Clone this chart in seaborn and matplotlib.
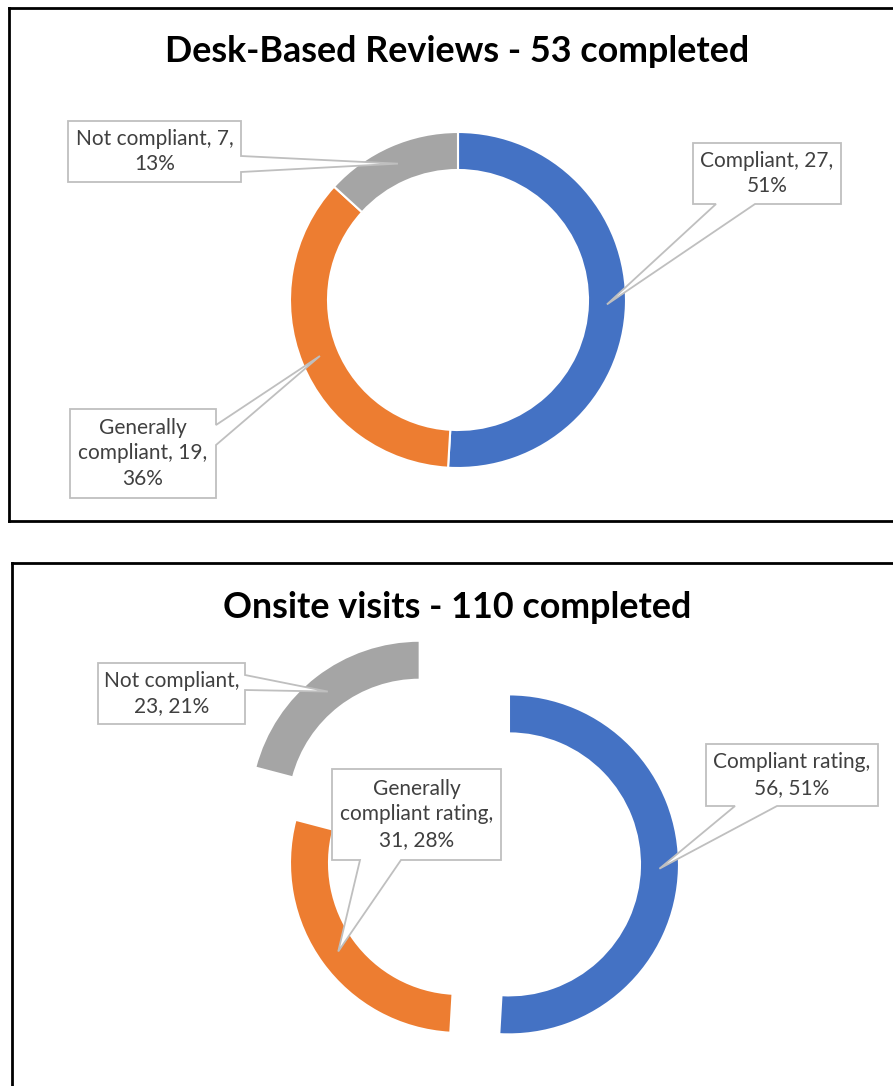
import numpy as np
import matplotlib
matplotlib.use("Agg")
import matplotlib.pyplot as plt
from matplotlib.patches import Polygon
import seaborn as sns

# ── Data ──────────────────────────────────────────────────────────────────────

desk_labels = ["Compliant", "Generally compliant", "Not compliant"]
desk_counts = [27, 19, 7]
desk_title = "Desk-Based Reviews - 53 completed"

onsite_labels = ["Compliant rating", "Generally compliant rating", "Not compliant"]
onsite_counts = [56, 31, 23]
onsite_title = "Onsite visits - 110 completed"

COLORS = ["#4472C4", "#ED7D31", "#A5A5A5"]

# ── Setup ─────────────────────────────────────────────────────────────────────

sns.set_theme(style="white")
plt.rcParams["font.family"] = ["Lato", "DejaVu Sans"]

W, H = 893, 1086
fig = plt.figure(figsize=(W / 100, H / 100), dpi=100)


def panel(x0, y0, x1, y1):
    # axes whose data units are figure pixels (y negated so pies keep orientation)
    ax = fig.add_axes([x0 / W, 1 - y1 / H, (x1 - x0) / W, (y1 - y0) / H])
    return ax, (x0, x1), (-y1, -y0)


def callout(ax, text, box, tip, side, b1, b2):
    # box: (left, top, right, bottom) in px, wedge base on given side between b1 and b2
    l, t, r, b = box
    tx, ty = tip
    if side == "right":
        pts = [(l, t), (r, t), (r, b1), (tx, ty), (r, b2), (r, b), (l, b)]
    else:  # bottom
        pts = [(l, t), (r, t), (r, b), (b2, b), (tx, ty), (b1, b), (l, b)]
    pts = [(x, -y) for x, y in pts]
    ax.add_patch(Polygon(pts, closed=True, facecolor="white", edgecolor="#BFBFBF",
                         linewidth=1.3, zorder=5))
    ax.text((l + r) / 2, -(t + b) / 2, text, ha="center", va="center",
            fontsize=15, color="#404040", linespacing=1.35, zorder=6)


def draw_donut(ax, counts, center, radius, width, explode):
    wedges, _ = ax.pie(counts, colors=COLORS, startangle=90, counterclock=False,
                       radius=radius, center=center, explode=explode,
                       wedgeprops=dict(width=width, edgecolor="white", linewidth=1.5))
    # bisector tips at the middle of the ring
    tips = []
    for w in wedges:
        mid = np.deg2rad((w.theta1 + w.theta2) / 2)
        rr = radius - width / 2
        cx, cy = w.center
        tips.append((cx + rr * np.cos(mid), -(cy + rr * np.sin(mid))))
    return tips


def finish(ax, xlim, ylim):
    ax.set_xlim(*xlim)
    ax.set_ylim(*ylim)
    ax.set_aspect("equal")
    ax.set_frame_on(True)
    ax.set_xticks([])
    ax.set_yticks([])
    for s in ax.spines.values():
        s.set_color("black")
        s.set_linewidth(2)
    ax.spines["right"].set_visible(False)


def pct(v, total):
    return f"{round(100 * v / total)}%"


# ── Top panel: desk-based reviews ────────────────────────────────────────────

ax1, xl, yl = panel(9, 8, 900, 521)
tips = draw_donut(ax1, desk_counts, (458, -300), 168, 38, [0, 0, 0])
tot = sum(desk_counts)
ax1.text(457, -51, desk_title, ha="center", va="center", fontsize=25.8,
         fontweight="bold", color="black")
callout(ax1, f"{desk_labels[0]}, {desk_counts[0]},\n{pct(desk_counts[0], tot)}",
        (693, 143, 841, 204), tips[0], "bottom", 716, 755)
callout(ax1, f"Generally\ncompliant, {desk_counts[1]},\n{pct(desk_counts[1], tot)}",
        (70, 409, 216, 498), tips[1], "right", 425, 445)
callout(ax1, f"{desk_labels[2]}, {desk_counts[2]},\n{pct(desk_counts[2], tot)}",
        (68, 121, 241, 182), tips[2], "right", 156, 172)
finish(ax1, xl, yl)

# ── Bottom panel: onsite visits ──────────────────────────────────────────────

ax2, xl, yl = panel(12, 563, 900, 1095)
tips = draw_donut(ax2, onsite_counts, (460, -863), 170, 39, [49, 0, 66])
tot = sum(onsite_counts)
ax2.text(457, -607, onsite_title, ha="center", va="center", fontsize=25.8,
         fontweight="bold", color="black")
callout(ax2, f"{onsite_labels[0]},\n{onsite_counts[0]}, {pct(onsite_counts[0], tot)}",
        (706, 744, 878, 806), tips[0], "bottom", 735, 777)
callout(ax2, f"Generally\ncompliant rating,\n{onsite_counts[1]}, {pct(onsite_counts[1], tot)}",
        (332, 769, 501, 860), tips[1], "bottom", 360, 401)
callout(ax2, f"{onsite_labels[2]},\n{onsite_counts[2]}, {pct(onsite_counts[2], tot)}",
        (98, 663, 245, 724), tips[2], "right", 675, 690)
finish(ax2, xl, yl)

fig.savefig("out.png", dpi=100, facecolor="white")
